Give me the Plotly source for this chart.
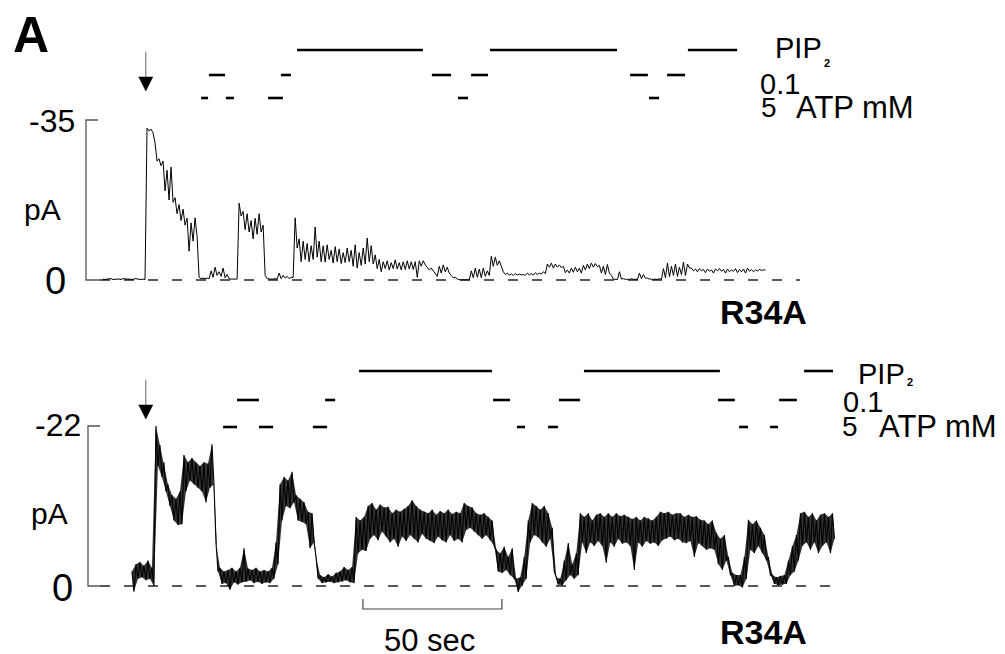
import numpy as np
import plotly.graph_objects as go

# ---------------- data ----------------
SAMPLE_DT_S = 1.44          # width of one min/max bin of the recordings (s)
TOP_T0_S = 0.0              # start of the upper recording (s)
BOT_T0_S = 10.4             # start of the lower recording (s)

# inward current amplitude (pA) per bin: upper and lower edge of the noisy trace
top_inward_max = [0.2, 0.2, 0.3, 0.2, 0.2, 0.3, 0.2, 0.2, 0.3, 0.2, 0.2,
                  33.2, 33.0, 30.0, 26.5, 26.0, 24.0, 24.7, 18.0, 16.5, 15.5, 13.5, 12.5, 13.6,
                  0.6, 0.4, 0.4, 2.0, 2.8, 1.8, 2.6, 1.2, 0.2, 0.2,
                  16.8, 15.0, 14.5, 13.0, 13.5, 14.5, 12.0,
                  0.3, 0.2, 0.3, 1.5, 1.0, 0.8, 0.6,
                  13.6, 9.0, 8.5, 8.0, 7.5, 11.6, 8.5, 7.5, 7.7, 6.5, 7.3, 6.8, 6.0, 7.0, 6.5, 7.7, 6.0, 7.0, 9.2, 7.5,
                  5.5, 4.5, 4.0, 4.2, 3.8, 4.4, 3.8, 4.0, 4.2, 4.0, 4.0, 4.2, 4.2, 2.8, 2.6, 1.5, 3.0, 3.3, 2.8, 1.0, 0.6,
                  0.1, 0.1, 0.1, 2.0, 2.6, 2.4, 2.6, 2.0, 5.2, 5.0, 4.2,
                  1.8, 1.5, 1.3, 1.4, 1.3, 1.2, 1.5, 1.4, 1.6, 1.5, 1.8,
                  3.5, 3.7, 3.5, 3.3, 3.0, 2.2, 2.6, 2.8, 2.6, 3.2, 3.5, 3.7, 3.6, 3.2, 3.0, 3.4,
                  1.0, 0.2, 1.8, 0.3, 0.2, 0.3, 0.2, 1.5, 1.2, 0.4, 0.2, 0.2, 0.3,
                  2.5, 3.7, 3.0, 3.5, 2.8, 3.9, 3.5,
                  2.6, 2.4, 2.5, 2.3, 2.4, 2.2, 2.4, 2.5, 2.3, 2.4, 2.2, 2.5, 2.3, 2.4, 2.6, 2.3, 2.2, 2.3, 2.2]
top_inward_min = [0.1, 0.2, 0.1, 0.2, 0.1, 0.2, 0.2, 0.1, 0.2, 0.1, 0.1,
                  32.6, 32.2, 26.0, 25.0, 19.5, 17.5, 17.0, 14.5, 13.0, 12.0, 6.3, 8.5, 9.5,
                  0.3, 0.3, 0.3, 0.6, 1.0, 0.8, 0.5, 0.3, 0.2, 0.2,
                  14.0, 11.0, 10.5, 9.0, 10.0, 10.5, 1.0,
                  0.2, 0.2, 0.2, 0.3, 0.4, 0.3, 0.5,
                  7.0, 4.0, 4.5, 4.0, 4.5, 5.0, 4.0, 3.9, 4.5, 3.7, 4.0, 3.6, 3.8, 4.0, 3.0, 2.6, 3.2, 3.5, 4.0, 3.5,
                  2.5, 1.8, 2.5, 2.2, 2.5, 2.4, 2.2, 2.3, 2.4, 2.3, 0.6, 3.0, 3.3, 2.2, 2.0, 0.8, 1.5, 1.8, 1.5, 0.5, 0.2,
                  0.0, 0.0, 0.0, 0.5, 0.6, 0.5, 0.8, 1.0, 3.0, 3.2, 2.8,
                  1.2, 1.1, 1.0, 1.1, 1.1, 1.0, 1.1, 1.1, 1.2, 1.3, 1.4,
                  2.8, 2.6, 2.8, 2.7, 1.6, 1.5, 1.7, 1.8, 1.5, 2.2, 2.5, 2.8, 2.9, 1.5, 1.2, 1.5,
                  0.2, 0.1, 0.2, 0.1, 0.1, 0.1, 0.1, 0.3, 0.4, 0.2, 0.1, 0.1, 0.1,
                  0.5, 0.7, 1.0, 0.8, 1.2, 1.0, 2.6,
                  2.0, 1.8, 2.0, 1.6, 1.9, 1.5, 2.0, 1.9, 1.5, 1.8, 1.9, 1.6, 1.8, 1.5, 1.9, 1.8, 2.0, 2.1, 2.2]

bot_inward_max = [2.0, 3.0, 3.3, 2.8, 3.5, 2.5,
                  22.0, 19.4, 17.0, 14.0, 12.5, 12.0, 13.0, 18.0, 17.0, 17.6, 17.0, 16.5, 17.0, 16.8, 19.5,
                  6.0, 2.5, 2.0, 2.2, 2.5, 2.0, 2.5, 5.2, 2.4, 2.2, 2.5, 2.0, 2.2, 2.0, 2.5,
                  6.0, 14.0, 15.0, 14.5, 15.7, 12.5, 12.0, 11.5, 10.2, 10.0,
                  4.0, 1.5, 1.2, 1.6, 1.3, 1.8, 2.0, 2.6, 2.2, 2.6,
                  9.5, 9.0, 9.5, 11.0, 11.4, 10.5, 11.2, 10.8, 10.9, 10.0, 10.5, 10.2, 10.6, 11.0, 11.8, 11.0, 10.5,
                  10.2, 10.0, 10.5, 9.8, 10.3, 10.0, 10.5, 9.9, 10.2, 10.0, 11.4, 11.0, 10.8, 10.0, 9.8, 10.0, 9.5, 9.0,
                  5.0, 4.5, 5.4, 4.0, 5.2, 1.0, 1.2, 4.0,
                  9.0, 11.4, 11.0, 10.5, 11.0, 10.0, 8.0,
                  1.2, 1.0, 3.5, 5.9, 3.0, 4.5,
                  10.0, 9.5, 10.0, 9.0, 9.8, 10.0, 9.5, 10.0, 9.5, 10.0, 9.6, 9.8, 9.5, 9.2, 9.5, 9.0, 9.5,
                  9.3, 9.0, 9.5, 10.2, 10.0, 10.2, 9.8, 10.0, 10.0, 9.5, 9.8, 9.5, 9.6, 9.1, 9.0, 8.5, 9.0,
                  7.3, 6.5, 7.0, 4.0, 1.8, 1.5, 1.5, 4.0,
                  9.1, 8.5, 9.0, 8.0, 7.0, 4.0,
                  1.5, 1.2, 1.4, 1.5, 3.5, 5.5, 7.0,
                  10.0, 10.2, 9.5, 10.0, 9.0, 9.8, 10.0, 9.5, 10.0]
bot_inward_min = [-0.8, 1.0, 1.2, 0.8, 1.0, 0.0,
                  16.5, 15.0, 13.0, 11.0, 9.0, 8.4, 8.5, 13.0, 14.5, 14.0, 13.5, 13.0, 11.5, 13.5, 14.0,
                  2.0, 0.3, 0.4, -0.5, 0.5, 0.2, 0.5, 0.6, 0.8, 0.4, 0.6, 0.3, 0.5, 0.4, 1.0,
                  3.0, 9.0, 11.0, 10.7, 11.5, 9.0, 8.8, 8.5, 5.2, 6.0,
                  1.0, 0.4, 0.5, 0.6, 0.4, 0.5, 0.6, 0.8, 0.5, 0.4,
                  4.5, 5.0, 4.8, 6.5, 7.0, 6.3, 7.5, 6.8, 6.0, 6.5, 5.4, 6.8, 6.2, 7.0, 6.5, 6.0, 7.2,
                  6.5, 6.2, 5.9, 6.8, 6.3, 6.0, 7.0, 6.2, 6.5, 6.0, 7.7, 8.0, 7.5, 7.0, 6.5, 7.0, 6.3, 5.5,
                  2.0, 1.8, 2.2, 1.5, 1.0, -0.8, 0.0, 1.0,
                  6.0, 7.0, 6.7, 6.0, 5.4, 6.5, 2.0,
                  0.2, 0.1, 0.8, 1.5, 1.0, 1.5,
                  6.0, 4.5, 6.0, 5.5, 6.2, 5.5, 3.2, 6.0, 5.4, 6.5, 5.8, 6.0, 5.5, 2.2, 6.0, 5.4, 6.2,
                  5.8, 6.0, 5.5, 6.3, 6.5, 6.8, 6.3, 6.5, 6.0, 5.9, 6.2, 4.0, 5.9, 5.5, 5.0, 5.2, 5.0,
                  3.0, 2.2, 3.5, 1.5, 0.0, 0.1, -0.2, 1.0,
                  5.0, 4.5, 5.5, 4.5, 3.5, 1.5,
                  0.3, 0.1, 0.2, 0.3, 1.5, 2.0, 3.5,
                  5.5, 6.0, 5.0, 6.0, 4.5, 5.5, 6.0, 4.5, 6.5]

TOP_FULL_SCALE_PA = -35
BOT_FULL_SCALE_PA = -22

# solution application periods (s)
top_pip2 = [(69.8, 115.1), (139.2, 184.9), (210.4, 228.1)]
top_atp01 = [(38.1, 43.9), (64.0, 67.6), (118.3, 125.2), (132.4, 138.5), (189.6, 196.0), (202.9, 209.4)]
top_atp5 = [(35.3, 37.8), (44.2, 47.1), (59.4, 64.7), (127.7, 131.3), (196.4, 200.0)]
bot_pip2 = [(92.1, 139.9), (173.0, 221.9), (252.2, 262.6)]
bot_atp01 = [(48.2, 56.1), (79.9, 83.5), (140.3, 146.4), (164.0, 171.6), (221.2, 227.3), (243.2, 249.6)]
bot_atp5 = [(43.2, 48.2), (56.1, 61.2), (75.5, 80.6), (148.9, 151.8), (160.1, 163.7), (228.8, 232.0), (239.9, 242.8)]

ARROW_T_S = 15.4
SCALEBAR_T0_S = 93.5
SCALEBAR_LEN_S = 50

# ---------------- layout helpers (positions in page pixels) ----------------
PAGE_W, PAGE_H = 1005, 654
OFF = 8                              # default page margin around the plot div
W, H = PAGE_W - OFF, PAGE_H - OFF    # figure size
PX_PER_S = 139 / 50
X_ORIGIN_PX = 103
FONT = "Liberation Sans, Arial, sans-serif"


def t_of_px(px):
    return (px - X_ORIGIN_PX) / PX_PER_S


def py(px):
    return 1 - (px - OFF) / H


def pxx(px):
    return (px - OFF) / W


def yrange(zero_px, full_px, full_val, d0, d1):
    scale = (zero_px - full_px) / abs(full_val)
    pb, pt = OFF + H * (1 - d0), OFF + H * (1 - d1)
    return [(pb - zero_px) / scale, (pt - zero_px) / scale]


def envelope_xy(t0, hi, lo):
    xs, ys = [], []
    for i, (a, b) in enumerate(zip(hi, lo)):
        t = t0 + i * SAMPLE_DT_S
        xs += [t, t + SAMPLE_DT_S / 2]
        ys += [-a, -b]
    return xs, ys


def band_xy(t0, hi, lo):
    n = len(hi)
    ts = [t0 + i * SAMPLE_DT_S for i in range(n)]
    xs = ts + [t + SAMPLE_DT_S / 2 for t in ts][::-1]
    ys = [-v for v in hi] + [-v for v in lo][::-1]
    return xs, ys


fig = go.Figure()
bfx, bfy = band_xy(BOT_T0_S, bot_inward_max, bot_inward_min)
fig.add_trace(go.Scatter(x=bfx, y=bfy, mode="lines", fill="toself", fillcolor="rgba(0,0,0,0.8)",
                         line=dict(width=0), xaxis="x", yaxis="y2", hoverinfo="skip"))
tx, ty = envelope_xy(TOP_T0_S, top_inward_max, top_inward_min)
bx, by = envelope_xy(BOT_T0_S, bot_inward_max, bot_inward_min)
fig.add_trace(go.Scatter(x=tx, y=ty, mode="lines", line=dict(color="black", width=1.0),
                         xaxis="x", yaxis="y", hoverinfo="skip"))
fig.add_trace(go.Scatter(x=bx, y=by, mode="lines", line=dict(color="black", width=1.1),
                         xaxis="x", yaxis="y2", hoverinfo="skip"))

shapes = []
panels = [
    dict(yref="y", zero_px=280, full_px=120, full=TOP_FULL_SCALE_PA, axis_px=86, dash_end=800,
         rows={50: top_pip2, 75: top_atp01, 98: top_atp5}, arrow=(52, 77, 91)),
    dict(yref="y2", zero_px=586, full_px=426, full=BOT_FULL_SCALE_PA, axis_px=88, dash_end=832,
         rows={371: bot_pip2, 400: bot_atp01, 427: bot_atp5}, arrow=(380, 405, 419)),
]
for p in panels:
    # dashed zero-current line
    shapes.append(dict(type="line", xref="x", yref=p["yref"], x0=t_of_px(100), x1=t_of_px(p["dash_end"]),
                       y0=0, y1=0, line=dict(color="#222", width=1.3, dash="10px,14px"), layer="below"))
    # calibration bracket
    a = p["axis_px"]
    shapes.append(dict(type="path", xref="paper", yref=p["yref"],
                       path=f"M {pxx(a + 12)},{p['full']} L {pxx(a)},{p['full']} L {pxx(a)},0 L {pxx(a + 14)},0",
                       line=dict(color="#555", width=1.3)))
    # solution bars
    for ypx, segs in p["rows"].items():
        for (s0, s1) in segs:
            shapes.append(dict(type="line", xref="x", yref="paper", x0=s0, x1=s1, y0=py(ypx), y1=py(ypx),
                               line=dict(color="black", width=2.6)))
    # arrow
    y_top, y_head, y_tip = p["arrow"]
    hw = 7 / PX_PER_S
    shapes.append(dict(type="line", xref="x", yref="paper", x0=ARROW_T_S, x1=ARROW_T_S,
                       y0=py(y_top), y1=py(y_head + 1), line=dict(color="#666", width=1)))
    shapes.append(dict(type="path", xref="x", yref="paper",
                       path=f"M {ARROW_T_S - hw},{py(y_head)} L {ARROW_T_S + hw},{py(y_head)} L {ARROW_T_S},{py(y_tip)} Z",
                       fillcolor="black", line=dict(color="black", width=0.5)))

# time scale bar
s0, s1 = SCALEBAR_T0_S, SCALEBAR_T0_S + SCALEBAR_LEN_S
shapes.append(dict(type="path", xref="x", yref="paper",
                   path=f"M {s0},{py(599)} L {s0},{py(609)} L {s1},{py(609)} L {s1},{py(599)}",
                   line=dict(color="#444", width=1.2)))

annotations = []


def ann(text, xc, yc, size, bold=False):
    annotations.append(dict(text=f"<b>{text}</b>" if bold else text, x=pxx(xc), y=py(yc),
                            xref="paper", yref="paper", xanchor="center", yanchor="middle",
                            showarrow=False, font=dict(family=FONT, size=size, color="black")))


ann("A", 31, 35, 50, bold=True)
# upper panel
ann("PIP", 798.5, 47.5, 29)
ann("2", 826.5, 63.5, 11, bold=True)
ann("0.1", 779.5, 84, 29)
ann("5", 768.5, 107, 28)
ann("ATP mM", 855, 107.5, 31)
ann("-35", 51.5, 121, 32)
ann("pA", 42.5, 209, 30)
ann("0", 55, 281, 38)
ann("R34A", 763.5, 311.5, 34, bold=True)
# lower panel
ann("PIP", 881.5, 374, 29)
ann("2", 909.5, 382, 11, bold=True)
ann("0.1", 862.5, 402.5, 29)
ann("5", 850, 426.5, 28)
ann("ATP mM", 937.5, 426.5, 31)
ann("-22", 57.5, 425, 32)
ann("pA", 49, 513, 30)
ann("0", 62.5, 587.5, 38)
ann("50 sec", 429, 640, 31)
ann("R34A", 763.5, 631.5, 34, bold=True)

fig.update_layout(
    width=W, height=H, margin=dict(l=0, r=0, t=0, b=0),
    paper_bgcolor="white", plot_bgcolor="white", showlegend=False,
    xaxis=dict(range=[t_of_px(OFF), t_of_px(PAGE_W)], visible=False, domain=[0, 1]),
    yaxis=dict(range=yrange(280, 120, TOP_FULL_SCALE_PA, 0.5, 1.0), domain=[0.5, 1.0], visible=False),
    yaxis2=dict(range=yrange(586, 426, BOT_FULL_SCALE_PA, 0.0, 0.5), domain=[0.0, 0.5], visible=False,
                anchor="x"),
    shapes=shapes, annotations=annotations,
)
fig.write_html("out.html")
